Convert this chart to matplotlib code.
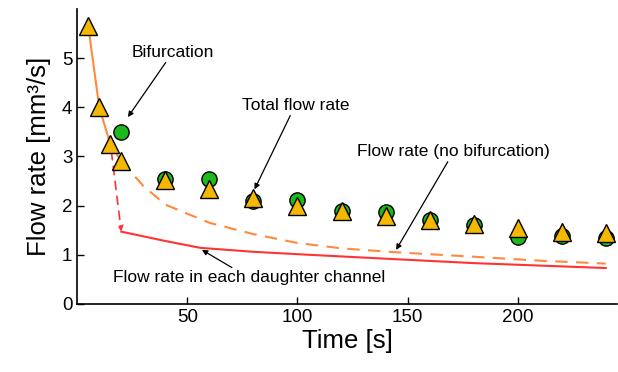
import matplotlib
matplotlib.use("Agg")
import matplotlib.pyplot as plt

plt.rcParams['font.family'] = ['Liberation Sans', 'DejaVu Sans']

# measured flow rate (circles) and model total flow rate (triangles)
t_meas = [20, 40, 60, 80, 100, 120, 140, 160, 180, 200, 220, 240]
q_meas = [3.5, 2.55, 2.55, 2.1, 2.12, 1.88, 1.86, 1.71, 1.6, 1.37, 1.38, 1.35]

t_total = [5, 10, 15, 20, 40, 60, 80, 100, 120, 140, 160, 180, 200, 220, 240]
q_total = [5.65, 4.0, 3.25, 2.9, 2.53, 2.33, 2.15, 2.0, 1.88, 1.78, 1.7, 1.62, 1.55, 1.47, 1.45]

# model curves
t_before = [5, 10, 15, 20]
q_before = [5.65, 4.0, 3.25, 2.9]

t_nobif = [20, 25, 30, 40, 60, 80, 100, 120, 145, 180, 210, 240]
q_nobif = [2.9, 2.65, 2.4, 2.02, 1.65, 1.42, 1.24, 1.13, 1.05, 0.96, 0.88, 0.82]

t_daughter = [20, 40, 56, 80, 105, 140, 180, 240]
q_daughter = [1.47, 1.28, 1.14, 1.06, 1.0, 0.92, 0.83, 0.73]

orange = '#ff8a3d'
red = '#ff3333'

fig = plt.figure(figsize=(6.18, 3.72), dpi=100)
ax = fig.add_axes([0.125, 0.183, 0.873, 0.793])

ax.plot(t_before, q_before, color=orange, lw=1.5, zorder=2)
ax.plot(t_nobif, q_nobif, color=orange, lw=1.5, ls=(0, (6, 4)), zorder=2)
ax.plot(t_daughter, q_daughter, color=red, lw=1.5, zorder=2)
ax.annotate('', xy=(t_daughter[0], q_daughter[0]), xytext=(15.5, 3.1),
            arrowprops=dict(arrowstyle='-|>', color=red, lw=1.2, ls=(0, (5, 4)),
                            mutation_scale=8, shrinkA=0, shrinkB=0), zorder=2)

ax.plot(t_meas, q_meas, 'o', ms=11, mfc='#1db81d', mec='black', mew=1.0, zorder=3)
ax.plot(t_total, q_total, '^', ms=12.5, mfc='#f5b800', mec='black', mew=1.0, zorder=4)

arrow = dict(arrowstyle='-|>', color='black', lw=0.9, mutation_scale=8, shrinkA=0, shrinkB=0)
ax.annotate('Bifurcation', xy=(23, 3.8), xytext=(43.4, 5.12), ha='center', va='center',
            fontsize=12.5, arrowprops=arrow)
ax.annotate('Total flow rate', xy=(80.5, 2.33), xytext=(99, 4.04), ha='center', va='center',
            fontsize=12.5, arrowprops=arrow)
ax.annotate('Flow rate (no bifurcation)', xy=(144.8, 1.1), xytext=(171, 3.1), ha='center',
            va='center', fontsize=12.5, arrowprops=arrow)
ax.annotate('Flow rate in each daughter channel', xy=(56.6, 1.1), xytext=(16.3, 0.53),
            ha='left', va='center', fontsize=12.5, arrowprops=arrow)

ax.set_xlim(0, 245)
ax.set_ylim(0, 6)
ax.set_xticks([50, 100, 150, 200])
ax.set_yticks([0, 1, 2, 3, 4, 5])
ax.tick_params(direction='in', labelsize=13.5, length=5, width=1)
ax.spines['top'].set_visible(False)
ax.spines['right'].set_visible(False)
ax.spines['left'].set_linewidth(1.2)
ax.spines['bottom'].set_linewidth(1.2)

ax.set_xlabel('Time [s]', fontsize=18.5, labelpad=2)
ax.set_ylabel('Flow rate [mm³/s]', fontsize=18.5, labelpad=8)

fig.savefig('out.png', dpi=100)
